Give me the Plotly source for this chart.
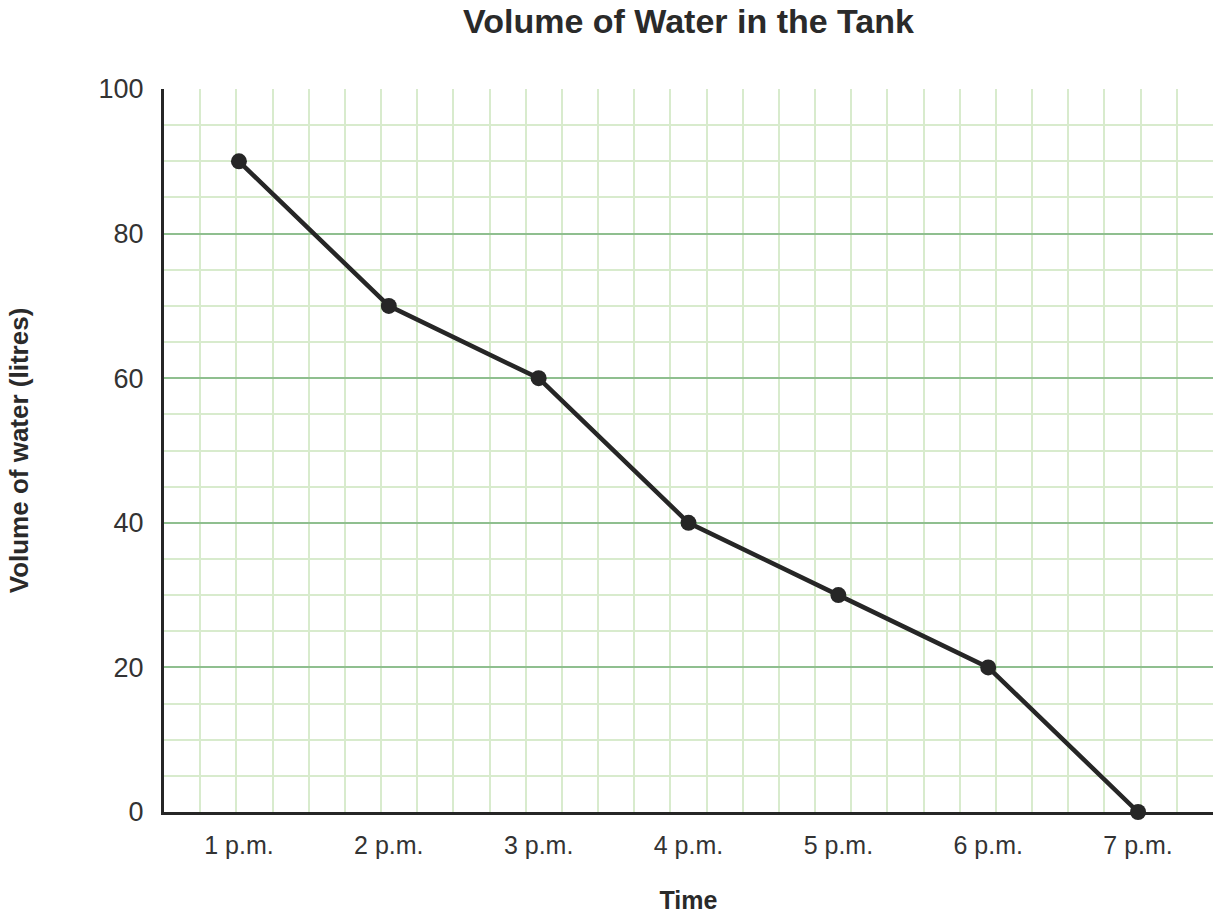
import plotly.graph_objects as go

times = ["1 p.m.", "2 p.m.", "3 p.m.", "4 p.m.", "5 p.m.", "6 p.m.", "7 p.m."]
volume = [90, 70, 60, 40, 30, 20, 0]

FONT = "Liberation Sans, Arial, sans-serif"
DARK = "#262626"
TEXT = "#333333"
MAJOR_GRID = "#8fbf8f"
MINOR_GRID = "#d8ebcd"

x_pos = list(range(len(times)))

fig = go.Figure()
fig.add_trace(go.Scatter(
    x=x_pos, y=volume, mode="lines+markers",
    line=dict(color=DARK, width=4.5),
    marker=dict(color=DARK, size=16),
    cliponaxis=False,
    showlegend=False,
))

fig.update_layout(
    width=1224, height=917,
    margin=dict(l=164, r=11, t=89, b=105),
    plot_bgcolor="white", paper_bgcolor="white",
    font=dict(family=FONT, color=TEXT),
    title=dict(text="<b>Volume of Water in the Tank</b>",
               font=dict(size=34, color="#2a2a2a"),
               x=0.5, xref="paper", xanchor="center",
               y=0.977, yanchor="middle"),
)

fig.update_xaxes(
    range=[-0.5, 6.5],
    tickmode="array", tickvals=x_pos, ticktext=times,
    tickfont=dict(size=25, color=TEXT),
    ticks="", ticklabelstandoff=9,
    showgrid=False, zeroline=False,
    showline=True, linecolor=DARK, linewidth=3,
    minor=dict(showgrid=True, tick0=-0.5, dtick=7 / 29,
               gridcolor=MINOR_GRID, gridwidth=2),
    automargin=False,
    title=dict(text="<b>Time</b>", font=dict(size=25, color="#2a2a2a"),
               standoff=34),
)

fig.update_yaxes(
    range=[0, 100], dtick=20,
    tickfont=dict(size=27, color=TEXT),
    ticks="", ticklabelstandoff=12,
    showgrid=True, gridcolor=MAJOR_GRID, gridwidth=2,
    zeroline=False,
    showline=True, linecolor=DARK, linewidth=3,
    minor=dict(showgrid=True, dtick=5, gridcolor=MINOR_GRID, gridwidth=2),
    automargin=False,
    title=dict(text="<b>Volume of water (litres)</b>",
               font=dict(size=26, color="#2a2a2a"), standoff=63),
)

# drop the default page margin so the figure sits at the window corner
fig.write_html("out.html", config={"displayModeBar": False},
               post_script="document.body.style.margin='0';")
